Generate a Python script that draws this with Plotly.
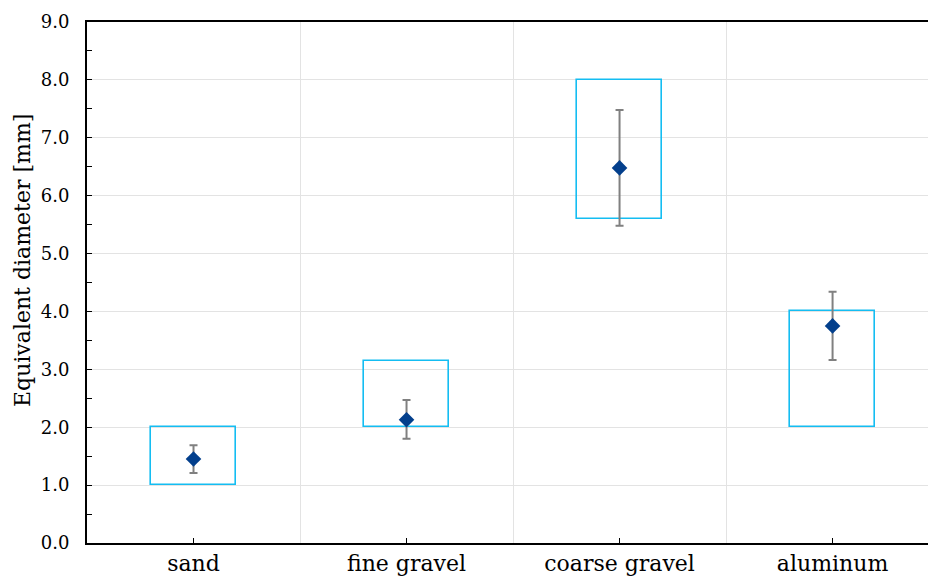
import plotly.graph_objects as go

# Materials and their measured equivalent diameters [mm]
categories = ["sand", "fine gravel", "coarse gravel", "aluminum"]
range_low = [1.0, 2.0, 5.6, 2.0]
range_high = [2.0, 3.15, 8.0, 4.0]
mean_value = [1.45, 2.13, 6.48, 3.75]
err_low = [1.21, 1.80, 5.48, 3.16]
err_high = [1.69, 2.47, 7.48, 4.34]
y_ticks = [0, 1, 2, 3, 4, 5, 6, 7, 8, 9]
y_title = "Equivalent diameter [mm]"

xpos = list(range(len(categories)))
font_family = "DejaVu Serif"

W, H = 928, 578
ML, MR, MT, MB = 87, 0, 22, 35

fig = go.Figure()

# size-range boxes (outlined bars spanning low..high)
fig.add_trace(go.Bar(
    x=xpos,
    y=[h - l for h, l in zip(range_high, range_low)],
    base=range_low,
    width=0.4,
    marker=dict(color="rgba(0,0,0,0)", line=dict(color="#14BDF2", width=1.6)),
    showlegend=False,
    hoverinfo="skip",
))

# mean value with spread
fig.add_trace(go.Scatter(
    x=xpos,
    y=mean_value,
    mode="markers",
    marker=dict(symbol="diamond", size=12, color="#033F8C"),
    error_y=dict(
        type="data",
        symmetric=False,
        array=[h - m for h, m in zip(err_high, mean_value)],
        arrayminus=[m - l for m, l in zip(mean_value, err_low)],
        color="#808080",
        thickness=2,
        width=4,
    ),
    showlegend=False,
))

fig.update_layout(
    width=W,
    height=H,
    margin=dict(l=ML, r=MR, t=MT, b=MB),
    plot_bgcolor="white",
    paper_bgcolor="white",
    font=dict(family=font_family, size=18, color="black"),
    bargap=0,
)

# vertical axis title, placed as rotated text left of the tick labels
plot_w = W - ML - MR
plot_h = H - MT - MB
fig.add_annotation(
    text=y_title,
    textangle=-90,
    xref="paper", yref="paper",
    x=-(ML - 22) / plot_w, y=(H - MB - 261) / plot_h,
    xanchor="center", yanchor="middle",
    showarrow=False,
    font=dict(size=22),
)

fig.update_xaxes(
    range=[-0.5, 3.448],
    tickvals=xpos,
    ticktext=categories,
    tickfont=dict(size=22),
    ticks="inside",
    ticklen=5,
    tickwidth=1,
    tickcolor="black",
    showgrid=False,
    showline=True,
    linecolor="black",
    linewidth=2,
    mirror=True,
    zeroline=False,
    ticklabelstandoff=0,
    minor=dict(tick0=0.5, dtick=1, showgrid=True, gridcolor="#E3E3E3", gridwidth=1, ticks=""),
)

fig.update_yaxes(
    range=[0, 9],
    tickvals=y_ticks,
    ticktext=[f"{v:.1f}" for v in y_ticks],
    tickfont=dict(size=18),
    ticks="inside",
    ticklen=5,
    tickwidth=1,
    tickcolor="black",
    showgrid=True,
    gridcolor="#E3E3E3",
    gridwidth=1,
    showline=True,
    linecolor="black",
    linewidth=2,
    zeroline=False,
    ticklabelstandoff=12,
    minor=dict(tick0=0.5, dtick=1, ticks="inside", ticklen=5, tickcolor="black", tickwidth=1, showgrid=False),
)

fig.write_html("out.html")
